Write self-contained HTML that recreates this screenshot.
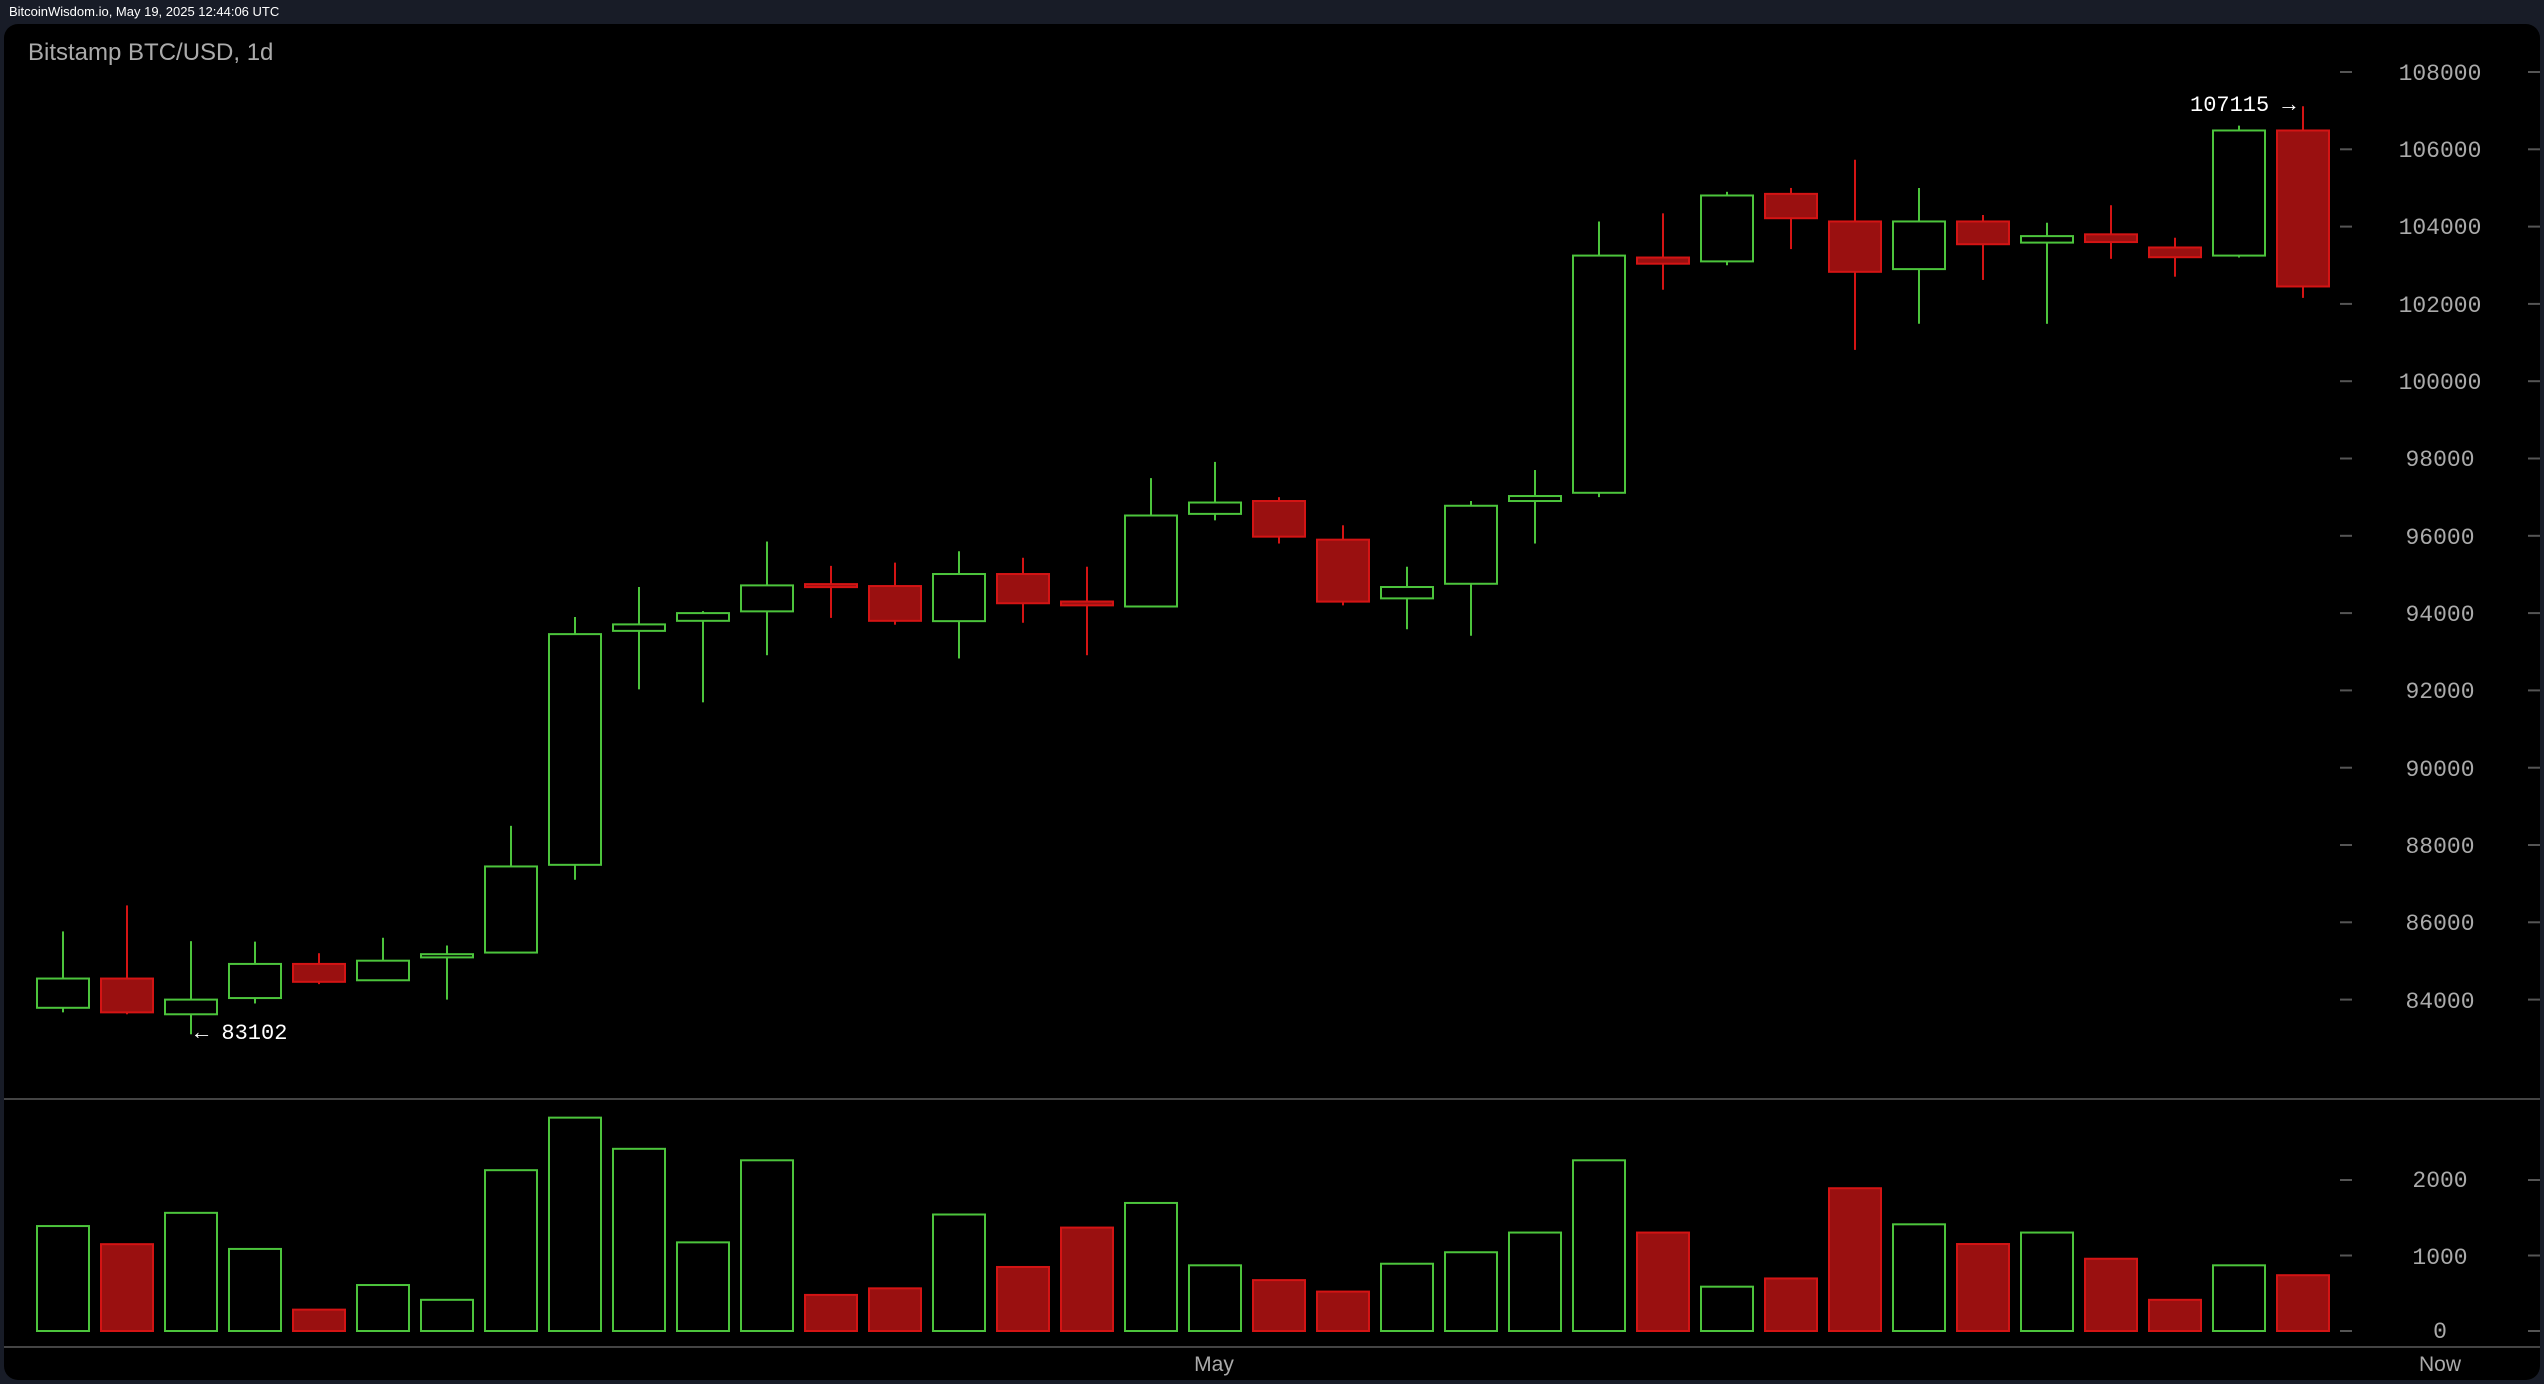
<!DOCTYPE html>
<html><head><meta charset="utf-8"><style>
html,body{margin:0;padding:0;background:#181c27;width:2544px;height:1384px;overflow:hidden}
#hdr{position:absolute;left:9px;top:4px;font:13px "Liberation Sans",sans-serif;color:#fff}
svg{position:absolute;left:0;top:0}
</style></head><body>
<div id="hdr">BitcoinWisdom.io, May 19, 2025 12:44:06 UTC</div>
<svg id="s" width="2544" height="1384" xmlns="http://www.w3.org/2000/svg">
<rect x="4" y="24" width="2536" height="1356" rx="14" fill="#000"/>
<text x="28" y="60" font-family="Liberation Sans,sans-serif" font-size="24" fill="#aaa">Bitstamp BTC/USD, 1d</text>
<line x1="4" y1="1099" x2="2540" y2="1099" stroke="#444" stroke-width="2"/>
<line x1="4" y1="1347" x2="2540" y2="1347" stroke="#444" stroke-width="2"/>
<g font-family="Liberation Mono,DejaVu Sans Mono,monospace" font-size="23" fill="#aaa" text-anchor="middle">
<text x="2440" y="80">108000</text><text x="2440" y="157">106000</text><text x="2440" y="234">104000</text>
<text x="2440" y="312">102000</text><text x="2440" y="389">100000</text><text x="2440" y="466">98000</text>
<text x="2440" y="544">96000</text><text x="2440" y="621">94000</text><text x="2440" y="698">92000</text>
<text x="2440" y="776">90000</text><text x="2440" y="853">88000</text><text x="2440" y="930">86000</text>
<text x="2440" y="1008">84000</text>
<text x="2440" y="1187">2000</text><text x="2440" y="1264">1000</text><text x="2440" y="1338">0</text>
<text x="2440" y="1371" font-family="Liberation Sans,sans-serif" font-size="21">Now</text>
<text x="1214" y="1371" font-family="Liberation Sans,sans-serif" font-size="21">May</text>
</g>
<g font-family="Liberation Mono,DejaVu Sans Mono,monospace" font-size="22" fill="#fff">
<text x="2190" y="111">107115 →</text>
<text x="195" y="1039">← 83102</text>
</g>
<g id="c"></g>
</svg>
<script>
var d=[[83788,84545,85764,83670,1390],[84545,83670,86437,83620,1150],[83620,84000,85512,83102,1565],[84040,84923,85500,83900,1087],[84923,84460,85200,84400,283],[84500,85007,85600,84500,609],[85092,85175,85400,84000,413],[85217,87445,88496,85200,2130],[87487,93456,93900,87100,2826],[93540,93708,94675,92027,2413],[93800,94000,94050,91691,1174],[94045,94717,95852,92910,2261],[94750,94700,95222,93876,478],[94700,93800,95306,93700,565],[93792,95011,95600,92826,1543],[95011,94255,95432,93750,848],[94300,94200,95200,92910,1370],[94171,96525,97492,94171,1696],[96567,96861,97912,96400,870],[96900,95978,97000,95800,674],[95900,94297,96272,94200,522],[94381,94675,95200,93582,891],[94759,96777,96900,93414,1043],[96900,97029,97702,95800,1304],[97113,103250,104133,97000,2261],[103200,103040,104343,102367,1304],[103100,104805,104900,103000,587],[104847,104217,105000,103418,696],[104133,102830,105730,100812,1891],[102900,104133,105000,101485,1413],[104133,103544,104300,102620,1152],[103586,103754,104100,101485,1304],[103800,103600,104553,103166,957],[103460,103208,103712,102704,413],[103250,106487,106613,103200,870],[106487,102451,107115,102157,739]];
function Y(p){return 72+(108000-p)*0.03865}
function V(v){return 1331-v*0.0755}
var h='';
[108000,106000,104000,102000,100000,98000,96000,94000,92000,90000,88000,86000,84000].forEach(function(p){var y=Y(p);h+='<line x1="2340" y1="'+y+'" x2="2352" y2="'+y+'" stroke="#555" stroke-width="2"/><line x1="2528" y1="'+y+'" x2="2540" y2="'+y+'" stroke="#555" stroke-width="2"/>';});
[0,1000,2000].forEach(function(v){var y=V(v);h+='<line x1="2340" y1="'+y+'" x2="2352" y2="'+y+'" stroke="#555" stroke-width="2"/><line x1="2528" y1="'+y+'" x2="2540" y2="'+y+'" stroke="#555" stroke-width="2"/>';});
d.forEach(function(c,i){var x=63+i*64,up=c[1]>=c[0],col=up?'#4cc43c':'#d41414',fill=up?'#000':'#9a1010';
var t=Y(Math.max(c[0],c[1])),b=Y(Math.min(c[0],c[1]));if(b-t<3){b=t+3}
h+='<line x1="'+x+'" y1="'+Y(c[2])+'" x2="'+x+'" y2="'+Y(c[3])+'" stroke="'+col+'" stroke-width="2"/>';
h+='<rect x="'+(x-26)+'" y="'+t+'" width="52" height="'+(b-t)+'" fill="'+fill+'" stroke="'+col+'" stroke-width="2"/>';
var vy=V(c[4]);h+='<rect x="'+(x-26)+'" y="'+vy+'" width="52" height="'+(1331-vy)+'" fill="'+fill+'" stroke="'+col+'" stroke-width="2"/>';});
document.getElementById('c').innerHTML=h;
</script>
</body></html>
